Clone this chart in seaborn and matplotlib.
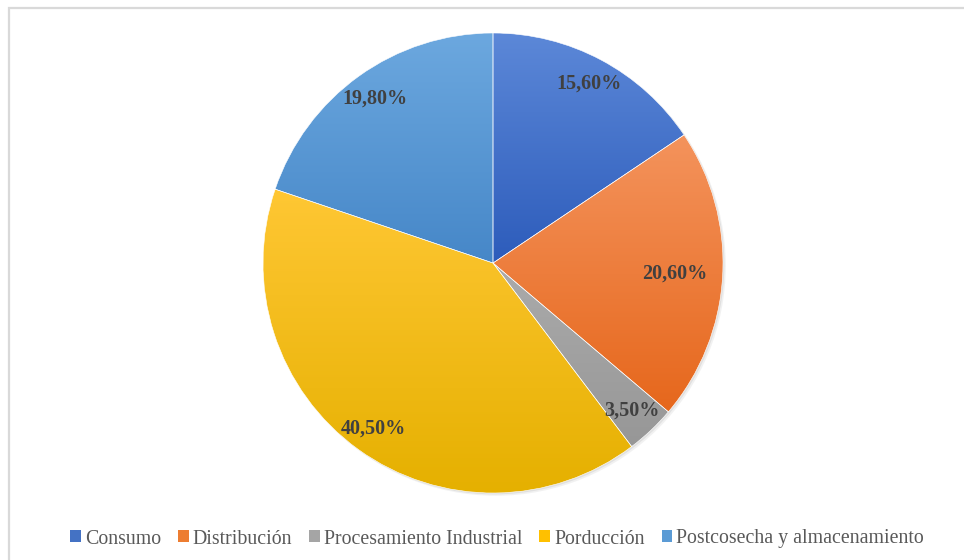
import matplotlib.pyplot as plt
import matplotlib.colors as mcolors
import seaborn as sns
import numpy as np
from matplotlib.patches import Rectangle, Circle

# data
categories = ['Consumo', 'Distribución', 'Procesamiento Industrial', 'Porducción',
              'Postcosecha y almacenamiento']
values = [15.6, 20.6, 3.5, 40.5, 19.8]
pct_labels = ['15,60%', '20,60%', '3,50%', '40,50%', '19,80%']

# gradient colours (top, bottom) per slice
top_colors = ['#5C88D8', '#F4935C', '#ABABAB', '#FFC734', '#6CA8DF']
bottom_colors = ['#2D5CBB', '#E6671C', '#979797', '#E5B000', '#4687C8']
legend_colors = ['#4472C4', '#ED7D31', '#A5A5A5', '#FFC000', '#5B9BD5']

sns.set_theme(style='white')
plt.rcParams['font.family'] = ['Liberation Serif', 'DejaVu Serif']

W, H = 964, 560
fig = plt.figure(figsize=(W / 100, H / 100), dpi=100)

# chart frame (top and left edges visible)
fig.add_artist(Rectangle((8.5 / W, -0.1), 1.2, (H - 7.5) / H + 0.1,
                         transform=fig.transFigure, fill=False,
                         edgecolor='#D9D9D9', linewidth=1.6))

R = 230.0
cx, cy = 493, H - 263
half = 250
ax = fig.add_axes([(cx - half) / W, (cy - half) / H, 2 * half / W, 2 * half / H])
lim = half / R
ax.set_aspect('equal')
ax.axis('off')

# soft shadow
for off, a in [(0.012, 0.10), (0.006, 0.15)]:
    ax.add_patch(Circle((off, -off), 1.0, color='#7F7F7F', alpha=a, zorder=0, lw=0))

wedges, _ = ax.pie(values, startangle=90, counterclock=False, radius=1.0,
                   colors=legend_colors,
                   wedgeprops=dict(edgecolor='white', linewidth=0.4))

# gradient fill clipped to each wedge
for w, c0, c1 in zip(wedges, top_colors, bottom_colors):
    verts = w.get_path().vertices
    x0, y0 = verts.min(axis=0)
    x1, y1 = verts.max(axis=0)
    cmap = mcolors.LinearSegmentedColormap.from_list('g', [c1, c0])
    grad = np.linspace(0, 1, 256).reshape(-1, 1)
    im = ax.imshow(grad, cmap=cmap, extent=[x0, x1, y0, y1], origin='lower',
                   aspect='auto', zorder=1.5, interpolation='bilinear')
    im.set_clip_path(w)
    w.set_facecolor('none')
    w.set_zorder(2)

ax.set_xlim(-lim, lim)
ax.set_ylim(-lim, lim)

# percentage labels
dists = [0.885, 0.79, 0.88, 0.89, 0.88]
start = 90.0
for v, lab, d in zip(values, pct_labels, dists):
    mid = np.deg2rad(start - v * 3.6 / 2)
    start -= v * 3.6
    ax.text(d * np.cos(mid), d * np.sin(mid), lab, ha='center', va='center',
            fontsize=14.5, fontweight='bold', color='#404040', zorder=3)

# legend
handles = [Rectangle((0, 0), 1, 1, facecolor=c, edgecolor='none') for c in legend_colors]
fig.legend(handles, categories, loc='center', bbox_to_anchor=(497 / W, 1 - 539 / H),
           ncol=5, frameon=False, fontsize=14.3, handlelength=0.55, handleheight=0.55,
           handletextpad=0.2, columnspacing=0.85, labelcolor='#595959')

fig.savefig('out.png', dpi=100)
